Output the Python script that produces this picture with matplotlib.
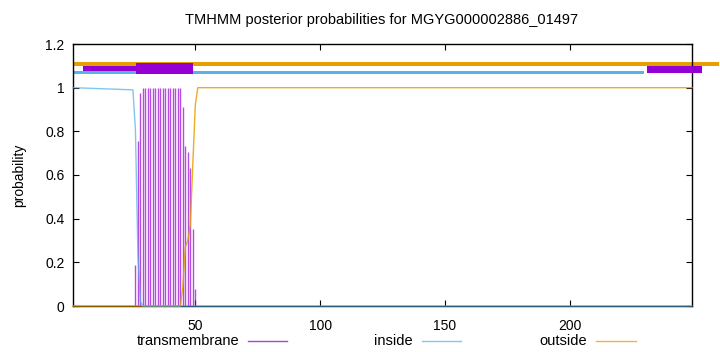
#!/usr/bin/env python3
import matplotlib
matplotlib.use("Agg")
import matplotlib.pyplot as plt
from matplotlib.patches import Rectangle
from matplotlib.lines import Line2D

plt.rcParams["font.family"] = ["Liberation Sans", "DejaVu Sans"]
plt.rcParams["font.size"] = 10

# ---- DATA ----
SEQ_LEN = 249
TITLE = "TMHMM posterior probabilities for MGYG000002886_01497"

# transmembrane probability per residue (impulses)
tm_pos = list(range(26, 51))
tm_prob = [0.19, 0.756, 0.977,
           1.0, 1.0, 1.0, 1.0, 1.0, 1.0, 1.0, 1.0,
           1.0, 1.0, 1.0, 1.0, 1.0, 1.0, 1.0, 1.0,
           0.911, 0.734, 0.704, 0.632, 0.353, 0.078]

# inside / outside probability (breakpoints of the curves)
inside_pos = [1, 25, 26, 27, 28, 29, 249]
inside_prob = [1.0, 0.99, 0.81, 0.24, 0.02, 0.0, 0.0]
outside_pos = [1, 44, 45, 46, 47, 48, 49, 50, 51, 249]
outside_prob = [0.0, 0.0, 0.09, 0.27, 0.30, 0.37, 0.65, 0.92, 1.0, 1.0]

# predicted topology bars on top (start, end)
outside_bar = (1, 259.7)
inside_bar = (1, 229.7)
tm_boxes = [(4.9, 26.9, 1.076, 1.101),
            (26.1, 48.9, 1.063, 1.114),
            (230.9, 252.9, 1.066, 1.099)]

# ---- COLORS ----
TM_COLOR = "#9400d3"
IN_COLOR = "#56b4e9"
OUT_COLOR = "#e69f00"

fig = plt.figure(figsize=(7.2, 3.52), dpi=100)
ax = fig.add_axes([73 / 720, 1 - 306 / 352, (692 - 73) / 720, (306 - 44) / 352])

ax.vlines(tm_pos, 0, tm_prob, color=TM_COLOR, linewidth=1.0, alpha=0.7)
ax.plot(outside_pos, outside_prob, color=OUT_COLOR, linewidth=1.0, alpha=0.85,
        clip_on=False, zorder=3)
ax.plot(inside_pos, inside_prob, color=IN_COLOR, linewidth=1.0, alpha=0.75,
        clip_on=False, zorder=3)

# topology bars
ax.add_patch(Rectangle((outside_bar[0], 1.1005), outside_bar[1] - outside_bar[0], 0.017,
                       color=OUT_COLOR, clip_on=False, lw=0))
ax.add_patch(Rectangle((inside_bar[0], 1.063), inside_bar[1] - inside_bar[0], 0.012,
                       color=IN_COLOR, clip_on=False, lw=0))
for x0, x1, y0, y1 in tm_boxes:
    ax.add_patch(Rectangle((x0, y0), x1 - x0, y1 - y0, color=TM_COLOR,
                           clip_on=False, lw=0, zorder=3))

ax.set_xlim(1, SEQ_LEN)
ax.set_ylim(0, 1.2)
ax.set_xticks([50, 100, 150, 200])
ax.set_yticks([0, 0.2, 0.4, 0.6, 0.8, 1.0, 1.2])
ax.set_yticklabels(["0", "0.2", "0.4", "0.6", "0.8", "1", "1.2"])
ax.tick_params(direction="in", top=True, right=True, length=4, width=0.8,
               labelsize=10, pad=6)
ax.tick_params(axis="x", pad=9)
for s in ax.spines.values():
    s.set_linewidth(1.0)
    s.set_color("black")

ax.set_ylabel("probability", fontsize=10, labelpad=14)
fig.text(382 / 720, 1 - 20 / 352, TITLE, ha="center", va="center", fontsize=10.5)

# ---- LEGEND (gnuplot style, text then sample) ----
legend_items = [("transmembrane", TM_COLOR, 239, 248, 287),
                ("inside", IN_COLOR, 413, 422, 461),
                ("outside", OUT_COLOR, 587, 596, 636)]
ly = 1 - 341 / 352
for label, col, tx, l0, l1 in legend_items:
    fig.text(tx / 720, ly, label, ha="right", va="center", fontsize=10.5)
    fig.add_artist(Line2D([l0 / 720, l1 / 720], [ly, ly], color=col, linewidth=1.0,
                          alpha=0.75, transform=fig.transFigure))

fig.savefig("out.png", dpi=100)
